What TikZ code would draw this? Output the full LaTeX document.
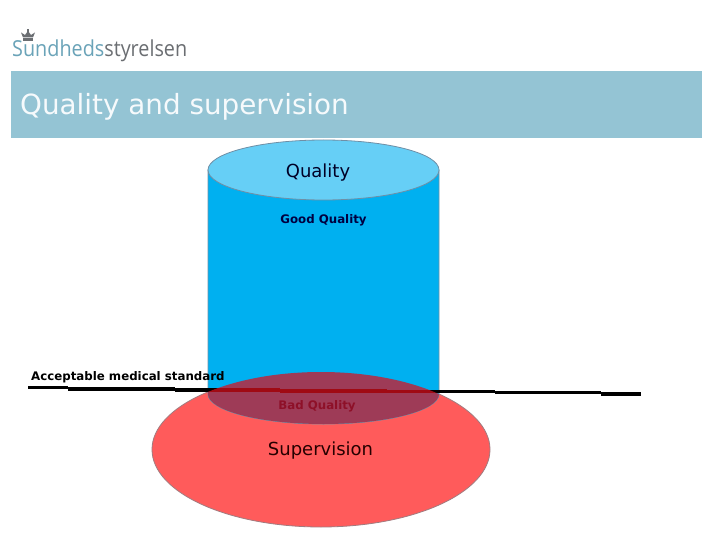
\documentclass[tikz,border=0pt]{standalone}
\usepackage{fontspec}
\setmainfont{DejaVu Sans}
\newfontfamily\logofont{Open Sans}
\definecolor{barblue}{HTML}{94C4D4}
\definecolor{cylbody}{HTML}{00B0F0}
\definecolor{cyltop}{HTML}{66CFF6}
\definecolor{cylline}{HTML}{6F8FA6}
\definecolor{redfill}{HTML}{FF5B5B}
\definecolor{redline}{HTML}{A07C80}
\definecolor{overlap}{HTML}{9E3B57}
\definecolor{darkred}{HTML}{A00A14}
\definecolor{badtext}{HTML}{8E1028}
\definecolor{logoblue}{HTML}{6AA3B8}
\definecolor{logogrey}{HTML}{6B6E72}
\tikzset{
  lbl/.style={inner sep=0pt, text=#1},
  lbl/.default=black,
  stdline/.style={line width=3.5pt, line cap=butt},
}
\begin{document}
\begin{tikzpicture}[x=1pt,y=-1pt]
\useasboundingbox (0,0) rectangle (720,540);
\fill[white] (0,0) rectangle (720,540);
% header bar
\fill[barblue] (11,71) rectangle (702,138);
\node[lbl={white!92!barblue}, anchor=west, font=\fontsize{27.8}{32}\selectfont] (title) at (20,107) {Quality and supervision};
% logo
\node[inner sep=0pt, anchor=west, xscale=.9, font=\logofont\fontsize{22}{26}\selectfont] (logo) at (12,50.5) {\textcolor{logoblue}{Sundheds}\textcolor{logogrey}{styrelsen}};
\fill[logogrey] (23,37.5) -- (21,32.5) -- (25,35) -- (28,31) -- (31,35) -- (35,32.5) -- (33,37.5) -- cycle;
\fill[logogrey] (23,38.5) rectangle (33,41);
\fill[logogrey] (27,29) rectangle (29,32.5);
% supervision ellipse
\draw[redline, fill=redfill, line width=0.8pt] (321,449.5) ellipse [x radius=169, y radius=77.5];
% cylinder
\draw[cylline, fill=cylbody, line width=0.8pt] (208,170) -- (208,394) arc[start angle=180, end angle=0, x radius=115.5, y radius=30] -- (439,170) -- cycle;
\draw[cylline, fill=cyltop, line width=0.8pt] (323.5,170) ellipse [x radius=115.5, y radius=30];
% overlap
\begin{scope}
  \clip (208,170) -- (208,394) arc[start angle=180, end angle=0, x radius=115.5, y radius=30] -- (439,170) -- cycle;
  \fill[overlap] (321,449.5) ellipse [x radius=169, y radius=77.5];
\end{scope}
% standard line
\coordinate (la) at (28,387.6);
\coordinate (lb) at (68,387.6);
\coordinate (lc) at (68,389);
\coordinate (ld) at (175,389);
\coordinate (le) at (175,390);
\coordinate (lf) at (280,390);
\coordinate (lg) at (280,391);
\coordinate (lh) at (387,391);
\coordinate (li) at (387,391.5);
\coordinate (lj) at (495,391.5);
\coordinate (lk) at (495,392.5);
\coordinate (ll) at (601,392.5);
\coordinate (lm) at (601,394);
\coordinate (ln) at (641,394);
\foreach \p/\q in {la/lb,lc/ld,le/lf,lg/lh,li/lj,lk/ll,lm/ln}
  \draw[stdline] (\p) -- (\q);
\begin{scope}
  \clip (321,449.5) ellipse [x radius=169, y radius=77.5];
  \foreach \p/\q in {le/lf,lg/lh,li/lj}
    \draw[stdline, darkred] (\p) -- (\q);
\end{scope}
% labels
\node[lbl={black!85!blue}, font=\fontsize{18}{22}\selectfont] (quality) at (318,172.5) {Quality};
\node[lbl={black!75!blue}, font=\bfseries\fontsize{11.8}{14}\selectfont] (good) at (323.5,220.5) {Good Quality};
\node[lbl=black, anchor=west, font=\bfseries\fontsize{11.8}{14}\selectfont] (std) at (31,377.5) {Acceptable medical standard};
\node[lbl=badtext, font=\bfseries\fontsize{11.8}{14}\selectfont] (bad) at (317,406.5) {Bad Quality};
\node[lbl={black!85!red}, font=\fontsize{18}{22}\selectfont] (sup) at (320.5,450.5) {Supervision};
\end{tikzpicture}
\end{document}
